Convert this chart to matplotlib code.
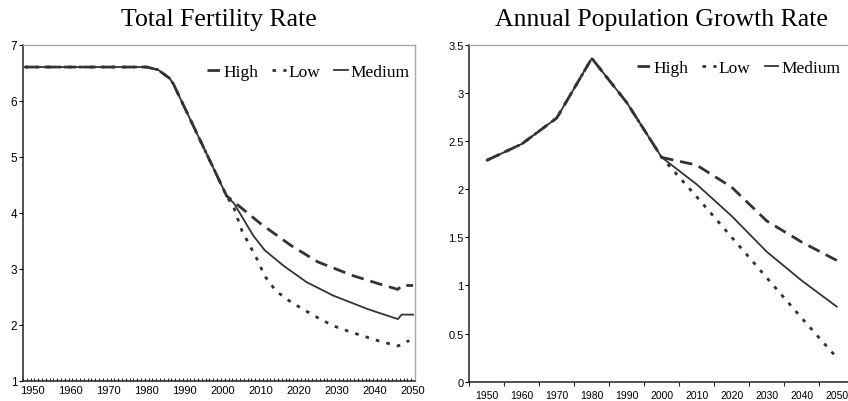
import numpy as np
import matplotlib
matplotlib.use("Agg")
import matplotlib.pyplot as plt

# total fertility rate, vertices
tfr_high_years = [1948, 1980, 1983, 1986, 1987, 2001, 2010, 2018, 2025, 2034, 2041, 2046, 2047, 2050]
tfr_high = [6.6, 6.6, 6.55, 6.4, 6.3, 4.3, 3.8, 3.41, 3.12, 2.88, 2.73, 2.63, 2.7, 2.7]

tfr_low_years = [1948, 1980, 1983, 1986, 1987, 2001, 2003, 2005, 2009, 2011, 2014, 2018, 2024,
                 2029, 2034, 2041, 2046, 2048, 2049]
tfr_low = [6.6, 6.6, 6.55, 6.4, 6.3, 4.3, 4.07, 3.68, 3.17, 2.87, 2.6, 2.4, 2.16,
           1.98, 1.86, 1.71, 1.62, 1.68, 1.72]

tfr_med_years = [1948, 1980, 1983, 1986, 1987, 2001, 2003, 2008, 2011, 2016, 2022, 2029,
                 2038, 2046, 2047, 2050]
tfr_med = [6.6, 6.6, 6.55, 6.4, 6.3, 4.3, 4.16, 3.59, 3.33, 3.05, 2.76, 2.52,
           2.28, 2.1, 2.18, 2.18]

# annual population growth rate
growth_labels = ["1950", "1960", "1970", "1980", "1990", "2000",
                 "2010", "2020", "2030", "2040", "2050"]
growth_high = [2.3, 2.47, 2.74, 3.36, 2.9, 2.33, 2.25, 2.02, 1.67, 1.45, 1.26]
growth_low = [2.3, 2.47, 2.74, 3.36, 2.9, 2.33, 1.92, 1.5, 1.08, 0.66, 0.25]
growth_med = [2.3, 2.47, 2.74, 3.36, 2.9, 2.33, 2.05, 1.72, 1.35, 1.05, 0.78]

LINE = "#333333"
SERIF = "Liberation Serif"
SANS = "Liberation Sans"
HIGH_DASH = (0, (4.5, 2.5))
LOW_DASH = (0, (1.3, 2.6))


def style_axes(ax):
  ax.spines["left"].set_color("#222222")
  ax.spines["bottom"].set_color("#222222")
  ax.spines["left"].set_linewidth(1.1)
  ax.spines["bottom"].set_linewidth(1.1)
  for side in ["top", "right"]:
    ax.spines[side].set_color("#a8a8a8")
    ax.spines[side].set_linewidth(1.0)
  for lab in ax.get_xticklabels() + ax.get_yticklabels():
    lab.set_fontfamily(SANS)


def add_legend(ax, anchor):
  leg = ax.legend(loc="center right", bbox_to_anchor=anchor, ncol=3, frameon=False,
                  prop={"family": SERIF, "size": 12.5}, handlelength=0.8,
                  handletextpad=0.15, columnspacing=0.8, borderaxespad=0.0,
                  borderpad=0.0)
  return leg


def draw_lines(ax, x_high, y_high, x_low, y_low, x_med, y_med):
  ax.plot(x_high, y_high, color=LINE, lw=2.0, ls=HIGH_DASH, dash_capstyle="butt", label="High")
  ax.plot(x_low, y_low, color=LINE, lw=2.0, ls=LOW_DASH, dash_capstyle="butt", label="Low")
  ax.plot(x_med, y_med, color=LINE, lw=1.3, label="Medium")


def draw_fertility(ax):
  draw_lines(ax, tfr_high_years, tfr_high, tfr_low_years, tfr_low, tfr_med_years, tfr_med)
  ax.set_xlim(1947.5, 2050.5)
  ax.set_ylim(1, 7)
  ax.set_xticks(range(1950, 2051, 10))
  ax.set_xticks(np.arange(1947.5, 2051, 1), minor=True)
  ax.tick_params(axis="x", which="major", length=0, labelsize=8, pad=3)
  ax.tick_params(axis="x", which="minor", direction="in", length=2.5, width=0.7, color="#222222")
  ax.set_yticks(range(1, 8))
  ax.tick_params(axis="y", length=3, labelsize=8.5, pad=1)
  ax.set_title("Total Fertility Rate", family=SERIF, fontsize=18.5, pad=14)
  style_axes(ax)
  add_legend(ax, (0.987, 0.92))


def draw_growth(ax):
  x = np.arange(len(growth_labels))
  draw_lines(ax, x, growth_high, x, growth_low, x, growth_med)
  ax.set_xlim(-0.5, len(growth_labels) - 0.5)
  ax.set_ylim(0, 3.5)
  ax.set_xticks(x)
  ax.set_xticklabels(growth_labels)
  ax.set_xticks(np.arange(-0.5, len(growth_labels), 1), minor=True)
  ax.tick_params(axis="x", which="major", length=0, labelsize=7.5, pad=6)
  ax.tick_params(axis="x", which="minor", direction="out", length=3, width=0.8, color="#222222")
  ax.set_yticks(np.arange(0, 3.51, 0.5))
  ax.set_yticklabels(["0", "0.5", "1", "1.5", "2", "2.5", "3", "3.5"])
  ax.tick_params(axis="y", length=3, labelsize=8, pad=1)
  ax.set_title("Annual Population Growth Rate", family=SERIF, fontsize=18.5, pad=14)
  style_axes(ax)
  add_legend(ax, (0.963, 0.932))


def main():
  fig = plt.figure(figsize=(8.48, 4.02), dpi=100)
  ax1 = fig.add_axes([0.0271, 0.0505, 0.4623, 0.836])
  ax2 = fig.add_axes([0.5534, 0.048, 0.454, 0.838])
  draw_fertility(ax1)
  draw_growth(ax2)
  fig.savefig("out.png", dpi=100)


if __name__ == "__main__":
  main()
